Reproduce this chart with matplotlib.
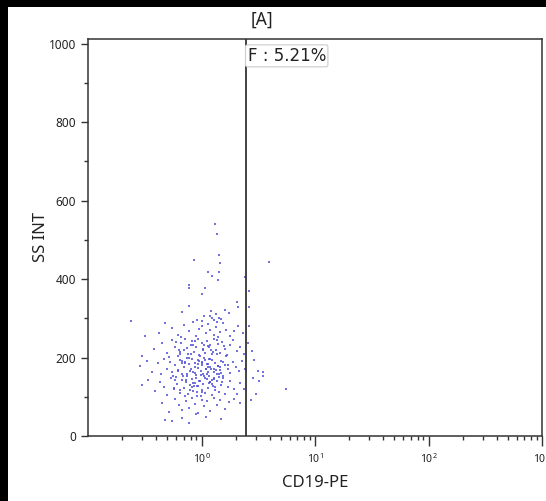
import numpy as np
import matplotlib
matplotlib.use("Agg")
import matplotlib.pyplot as plt
from matplotlib.patches import Rectangle
from matplotlib.ticker import LogLocator, FixedLocator, MultipleLocator, NullFormatter

plt.rcParams['font.family'] = ['Noto Sans', 'DejaVu Sans']

# events inside the main cluster (CD19-PE, SS INT)
cd19_main = [
    1.18, 1.25, 1.3, 1.35, 1.42, 1.5, 1.22, 1.38, 0.91, 0.77, 1.75, 0.48, 0.24, 2.04, 2.1, 1.6, 1.05, 0.68,
    0.42, 0.55, 0.62, 0.7, 0.78, 0.85, 0.9, 0.95, 1.02, 1.1, 1.15, 1.2, 1.28, 1.35, 1.45, 1.55, 1.65, 1.8,
    1.95, 2.1, 2.3, 0.66, 1.0, 1.4, 0.32,
    0.3, 0.38, 0.45, 0.5, 0.55, 0.58, 0.62, 0.66, 0.7, 0.72, 0.76, 0.8, 0.83, 0.86, 0.9, 0.93, 0.97, 1.0,
    1.04, 1.08, 1.12, 1.16, 1.2, 1.25, 1.3, 1.35, 1.4, 1.46, 1.52, 1.6, 1.68, 1.78, 1.9, 2.05, 2.2, 2.38,
    0.52, 0.74, 0.88, 1.06, 1.22, 1.38, 1.58, 0.64, 0.95,
    0.29, 0.33, 0.37, 0.41, 0.44, 0.47, 0.5, 0.53, 0.56, 0.59, 0.62, 0.65, 0.68, 0.7, 0.72, 0.75, 0.78, 0.8,
    0.82, 0.85, 0.88, 0.9, 0.93, 0.96, 0.98, 1.01, 1.04, 1.07, 1.1, 1.13, 1.16, 1.2, 1.24, 1.28, 1.32, 1.36,
    1.4, 1.45, 1.5, 1.56, 1.62, 1.7, 1.78, 1.88, 2.0, 2.12, 2.28, 2.42, 0.6, 0.74, 0.87, 0.94, 1.05, 1.18,
    1.3, 1.42, 0.67, 0.79, 1.0, 1.14,
    0.3, 0.34, 0.39, 0.43, 0.47, 0.5, 0.54, 0.57, 0.61, 0.64, 0.67, 0.7, 0.73, 0.76, 0.79, 0.82, 0.85, 0.88,
    0.91, 0.94, 0.97, 1.0, 1.03, 1.07, 1.11, 1.15, 1.19, 1.23, 1.27, 1.32, 1.37, 1.42, 1.48, 1.55, 1.62, 1.7,
    1.8, 1.92, 2.05, 2.2, 2.35, 0.58, 0.72, 0.86, 1.02, 1.16, 1.3, 0.65, 0.98, 1.25,
    0.45, 0.52, 0.58, 0.63, 0.68, 0.73, 0.78, 0.83, 0.88, 0.94, 1.0, 1.06, 1.12, 1.2, 1.28, 1.36, 1.46, 1.6,
    1.75, 1.95, 2.2, 0.9,
    0.48, 0.77, 0.68, 1.1, 0.55, 1.5,
]
ss_main = [
    305, 300, 296, 310, 302, 298, 318, 290, 296, 332, 313, 289, 293, 342, 329, 322, 306, 315,
    262, 275, 258, 282, 268, 290, 255, 272, 280, 262, 286, 270, 258, 278, 265, 287, 270, 256,
    268, 281, 262, 252, 294, 252, 255,
    205, 222, 238, 212, 245, 228, 205, 236, 218, 248, 210, 232, 242, 215, 226, 248, 204, 238,
    220, 211, 243, 226, 232, 208, 246, 219, 235, 212, 240, 223, 206, 231, 244, 216, 228, 210,
    202, 225, 241, 233, 219, 245, 229, 214, 207,
    178, 192, 163, 185, 158, 196, 172, 188, 153, 181, 167, 194, 159, 176, 189, 152, 183, 170,
    197, 162, 186, 155, 174, 191, 166, 180, 158, 195, 171, 184, 152, 177, 193, 164, 187, 157,
    179, 168, 190, 154, 182, 172, 160, 188, 176, 165, 192, 170, 150, 199, 161, 183, 152, 196,
    170, 158, 185, 166, 188, 175,
    130, 142, 115, 137, 126, 104, 148, 119, 133, 110, 144, 122, 138, 107, 129, 146, 114, 135,
    102, 127, 141, 118, 132, 109, 145, 123, 137, 104, 128, 116, 140, 112, 131, 147, 106, 125,
    139, 119, 108, 134, 121, 142, 101, 127, 113, 136, 149, 117, 103, 144,
    85, 62, 95, 78, 66, 90, 72, 98, 82, 58, 93, 76, 88, 64, 97, 80, 92, 70,
    86, 95, 83, 55,
    41, 32, 45, 48, 38, 44,
]

# extra events in the densest core
cd19_core = [
    0.62, 0.68, 0.73, 0.81, 0.87, 0.92, 0.99, 1.05, 1.12, 1.19, 1.27, 1.34, 1.44, 1.55, 0.57, 0.65, 0.75,
    0.84, 0.96, 1.09, 1.17, 1.31, 1.48, 1.66, 0.71, 0.79, 0.89, 1.03, 1.14, 1.24, 1.39, 0.6, 0.69, 0.82,
    0.93, 1.08, 1.21, 1.36, 1.53, 1.72, 0.55, 0.77, 0.91, 1.01, 1.15, 1.29, 1.46, 0.63, 0.85, 1.11,
]
ss_core = [
    165, 190, 142, 210, 176, 128, 155, 198, 183, 137, 215, 169, 150, 188, 122, 208, 157,
    231, 140, 172, 196, 124, 161, 204, 186, 117, 149, 222, 164, 133, 178, 239, 153, 126,
    193, 147, 171, 209, 138, 180, 162, 199, 113, 185, 230, 145, 176, 218, 134, 158,
]

# sparse events above the cluster
cd19_high = [1.31, 1.36, 1.43, 0.86, 1.46, 1.14, 1.23, 1.43, 1.41, 0.77, 0.78, 1.07, 1.0]
ss_high = [540, 516, 461, 448, 442, 418, 408, 418, 397, 385, 377, 377, 362]

# events right of the gate
cd19_pos = [2.64, 2.8, 3.17, 3.51, 3.51, 2.86, 3.23, 3.0, 5.55, 2.75, 2.61, 2.61, 3.91, 2.43, 2.56, 2.9]
ss_pos = [280, 217, 166, 162, 154, 149, 140, 107, 121, 92, 369, 329, 444, 406, 236, 195]

gate_x = 2.47
gate_label = "F : 5.21%"

x = cd19_main + cd19_core + cd19_high + cd19_pos
y = ss_main + ss_core + ss_high + ss_pos

fig = plt.figure(figsize=(5.46, 5.01), dpi=100, facecolor='white')
# black border strips at top and left
fig.patches.append(Rectangle((0, 1 - 7 / 501), 1, 7 / 501, transform=fig.transFigure,
                             facecolor='black', edgecolor='none'))
fig.patches.append(Rectangle((0, 0), 8 / 546, 1, transform=fig.transFigure,
                             facecolor='black', edgecolor='none'))

ax = fig.add_axes([88 / 546, 65 / 501, 454 / 546, 397 / 501])
ax.scatter(x, y, s=3.5, marker='s', color='#5050d8', linewidths=0, alpha=0.8)
ax.axvline(gate_x, color='#222222', lw=1.2)

ax.set_xscale('log')
ax.set_xlim(0.1, 1000)
ax.set_ylim(0, 1012)

ax.xaxis.set_major_locator(FixedLocator([1, 10, 100, 1000]))
ax.xaxis.set_minor_locator(LogLocator(base=10, subs=np.arange(2, 10)))
ax.xaxis.set_minor_formatter(NullFormatter())
ax.yaxis.set_major_locator(MultipleLocator(200))
ax.yaxis.set_minor_locator(MultipleLocator(100))

ax.tick_params(axis='both', which='major', direction='out', length=5, width=1, colors='#333333',
               labelsize=8.5, labelcolor='#222222')
ax.tick_params(axis='both', which='minor', direction='out', length=3, width=1, colors='#333333')
ax.tick_params(axis='x', which='major', length=7, pad=5, labelsize=7.5)
for s in ax.spines.values():
    s.set_color('#333333')
    s.set_linewidth(1.1)

ax.text(gate_x * 1.03, 992, gate_label, fontsize=12, family='DejaVu Sans', va='top', ha='left',
        color='#222222',
        bbox=dict(boxstyle='round,pad=0.12', facecolor='white', edgecolor='#cccccc', lw=0.8))

ax.set_xlabel('CD19-PE', fontsize=12, color='#222222', labelpad=6)
ax.set_ylabel('SS INT', fontsize=12, color='#222222', labelpad=0)
fig.text(262 / 546, 1 - 20 / 501, '[A]', fontsize=12.5, ha='center', va='center', color='#222222')

plt.savefig('out.png', dpi=100)
